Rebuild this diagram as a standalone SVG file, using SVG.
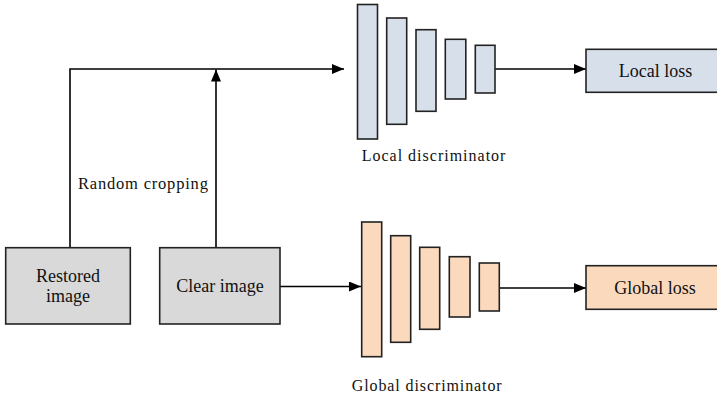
<svg xmlns="http://www.w3.org/2000/svg" width="717" height="396" viewBox="0 0 717 396">
<style>
.t{font-family:"Liberation Serif","Times New Roman",serif;fill:#111;}
.c{stroke:#000;stroke-width:1.6;fill:none;}
.lb{fill:#d6dfea;stroke:#222;stroke-width:1.6;}
.gb{fill:#fbd9bd;stroke:#222;stroke-width:1.6;}
.gr{fill:#d9d9d9;stroke:#222;stroke-width:1.6;}
</style>
<defs>
<marker id="ah" viewBox="0 0 12 10" refX="12" refY="5" markerWidth="12" markerHeight="10" markerUnits="userSpaceOnUse" orient="auto">
<path d="M0,0 L12,5 L0,10 Z" fill="#000"/>
</marker>
</defs>
<rect width="717" height="396" fill="#fff"/>
<g id="connectors">
<polyline class="c" points="70,247.7 70,69 344,69" marker-end="url(#ah)"/>
<line class="c" x1="216" y1="247.7" x2="216" y2="69.5" marker-end="url(#ah)"/>
<line class="c" x1="280" y1="286.5" x2="361" y2="286.5" marker-end="url(#ah)"/>
<line class="c" x1="495" y1="69" x2="586" y2="69" marker-end="url(#ah)"/>
<line class="c" x1="499" y1="288" x2="586" y2="288" marker-end="url(#ah)"/>
</g>
<g id="restored">
<rect class="gr" x="5.7" y="247.7" width="124.6" height="76.3"/>
<text class="t" x="68" y="282" font-size="18" text-anchor="middle">Restored</text>
<text class="t" x="68" y="302" font-size="18" text-anchor="middle">image</text>
</g>
<g id="clear">
<rect class="gr" x="159.7" y="247.7" width="120.3" height="76.3"/>
<text class="t" x="220" y="292" font-size="18" text-anchor="middle">Clear image</text>
</g>
<text class="t" x="78" y="188.5" font-size="16.5" letter-spacing="0.8">Random cropping</text>
<g id="local-discriminator">
<rect class="lb" x="357.5" y="4.5" width="20" height="134.5"/>
<rect class="lb" x="386.7" y="18" width="20" height="106.3"/>
<rect class="lb" x="416" y="29.7" width="20" height="81.6"/>
<rect class="lb" x="445.3" y="39.3" width="20.5" height="59.7"/>
<rect class="lb" x="475.3" y="45.3" width="19.7" height="47.7"/>
<text class="t" x="361.7" y="160.5" font-size="16" letter-spacing="1">Local discriminator</text>
</g>
<g id="global-discriminator">
<rect class="gb" x="361.7" y="222" width="20" height="134.7"/>
<rect class="gb" x="390.7" y="235.7" width="20" height="106.6"/>
<rect class="gb" x="419.7" y="247.3" width="20" height="82"/>
<rect class="gb" x="449.3" y="256.7" width="20.7" height="60.3"/>
<rect class="gb" x="479.3" y="263" width="20" height="48"/>
<text class="t" x="351.7" y="390.5" font-size="16" letter-spacing="0.9">Global discriminator</text>
</g>
<g id="local-loss">
<rect class="lb" x="586" y="49.3" width="140" height="43"/>
<text class="t" x="655.5" y="77" font-size="18" text-anchor="middle">Local loss</text>
</g>
<g id="global-loss">
<rect class="gb" x="586" y="265.7" width="140" height="43.6"/>
<text class="t" x="655" y="293.5" font-size="18" text-anchor="middle">Global loss</text>
</g>
</svg>
